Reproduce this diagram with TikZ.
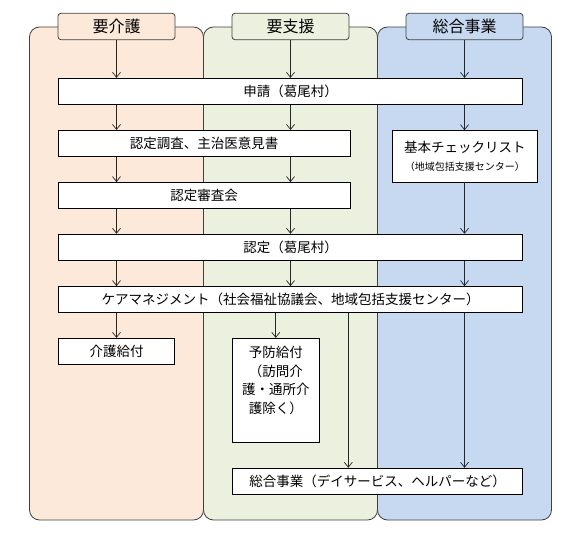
\documentclass[tikz,border=0pt]{standalone}
\usepackage{fontspec}
\setmainfont{Noto Sans CJK JP}
\usetikzlibrary{arrows.meta,positioning}
\definecolor{kaigobg}{HTML}{FDE9D9}
\definecolor{shienbg}{HTML}{EBF1DE}
\definecolor{sogobg}{HTML}{C6D9F1}
\definecolor{laneline}{HTML}{404040}

\begin{document}
\begin{tikzpicture}[x=1pt, y=-1pt,
  lane/.style={draw=laneline, line width=0.8pt, rounded corners=10pt},
  head/.style={draw=laneline, line width=0.8pt, rounded corners=3pt, minimum width=117pt,
    minimum height=26.4pt, inner sep=0pt, font=\fontsize{16}{18}\selectfont},
  stage/.style={draw, line width=0.8pt, fill=white, minimum height=26pt, inner sep=0pt,
    font=\fontsize{13.5}{18.7}\selectfont},
  flow/.style={draw=black!85, line width=0.7pt, -{Straight Barb[length=5pt,width=8pt]}}]
  \useasboundingbox (0,0) rectangle (578,535);
  % lanes
  \draw[lane, fill=kaigobg] (29.5,27) rectangle (203.5,520);
  \draw[lane, fill=shienbg] (203.5,27) rectangle (377.5,520);
  \draw[lane, fill=sogobg] (377.5,27) rectangle (551.5,520);
  \node[head, fill=kaigobg] (hKaigo) at (116.5,26.5) {要介護};
  \node[head, fill=shienbg] (hShien) at (290.5,26.5) {要支援};
  \node[head, fill=sogobg] (hSogo) at (464.5,26.5) {総合事業};
  \coordinate (x1) at (116.5,0);
  \coordinate (x2) at (290.5,0);
  \coordinate (x3) at (464.5,0);
  \coordinate (x4) at (348.3,0);
  % steps
  \node[stage, minimum width=464.4pt] (shinsei) at (290.5,91.3) {申請（葛尾村）};
  \node[stage, minimum width=291.7pt] (chosa) at (204.2,143.4) {認定調査、主治医意見書};
  \node[stage, minimum width=145pt, minimum height=51.3pt, align=center] (check) at (464.8,156.3)
    {基本チェックリスト\\{\fontsize{10}{14}\selectfont （地域包括支援センター）}};
  \node[stage, minimum width=291.7pt] (shinsa) at (204.2,195.5) {認定審査会};
  \node[stage, minimum width=464.4pt] (nintei) at (290.5,247.2) {認定（葛尾村）};
  \node[stage, minimum width=464.4pt] (care) at (290.5,299.5) {ケアマネジメント（社会福祉協議会、地域包括支援センター）};
  \node[stage, minimum width=116.4pt] (kyufu) at (116.5,351.3) {介護給付};
  \node[stage, minimum width=87pt, minimum height=104pt] (yobo) at (275.8,390.3) {};
  \node[inner sep=0pt, align=center, font=\fontsize{13.5}{18.7}\selectfont,
    below=8pt of yobo.north] (yobotxt) {予防給付\\（訪問介\\護・通所介\\護除く）};
  \node[stage, minimum width=290.4pt] (sogo) at (377.5,481.2) {総合事業（デイサービス、ヘルパーなど）};
  % arrows
  \foreach \h/\x in {hKaigo/x1, hShien/x2, hSogo/x3}
    \draw[flow] (\h.south) -- (\x |- shinsei.north);
  \foreach \x in {x1, x2} {
    \draw[flow] (\x |- shinsei.south) -- (\x |- chosa.north);
    \draw[flow] (\x |- chosa.south) -- (\x |- shinsa.north);
    \draw[flow] (\x |- shinsa.south) -- (\x |- nintei.north);
  }
  \draw[flow] (x3 |- shinsei.south) -- (x3 |- check.north);
  \draw[flow] (x3 |- check.south) -- (x3 |- nintei.north);
  \foreach \x in {x1, x2, x3}
    \draw[flow] (\x |- nintei.south) -- (\x |- care.north);
  \draw[flow] (x1 |- care.south) -- (kyufu.north);
  \draw[flow] (yobo.north |- care.south) -- (yobo.north);
  \draw[flow] (x4 |- care.south) -- (x4 |- sogo.north);
  \draw[flow] (x3 |- care.south) -- (x3 |- sogo.north);
\end{tikzpicture}
\end{document}
